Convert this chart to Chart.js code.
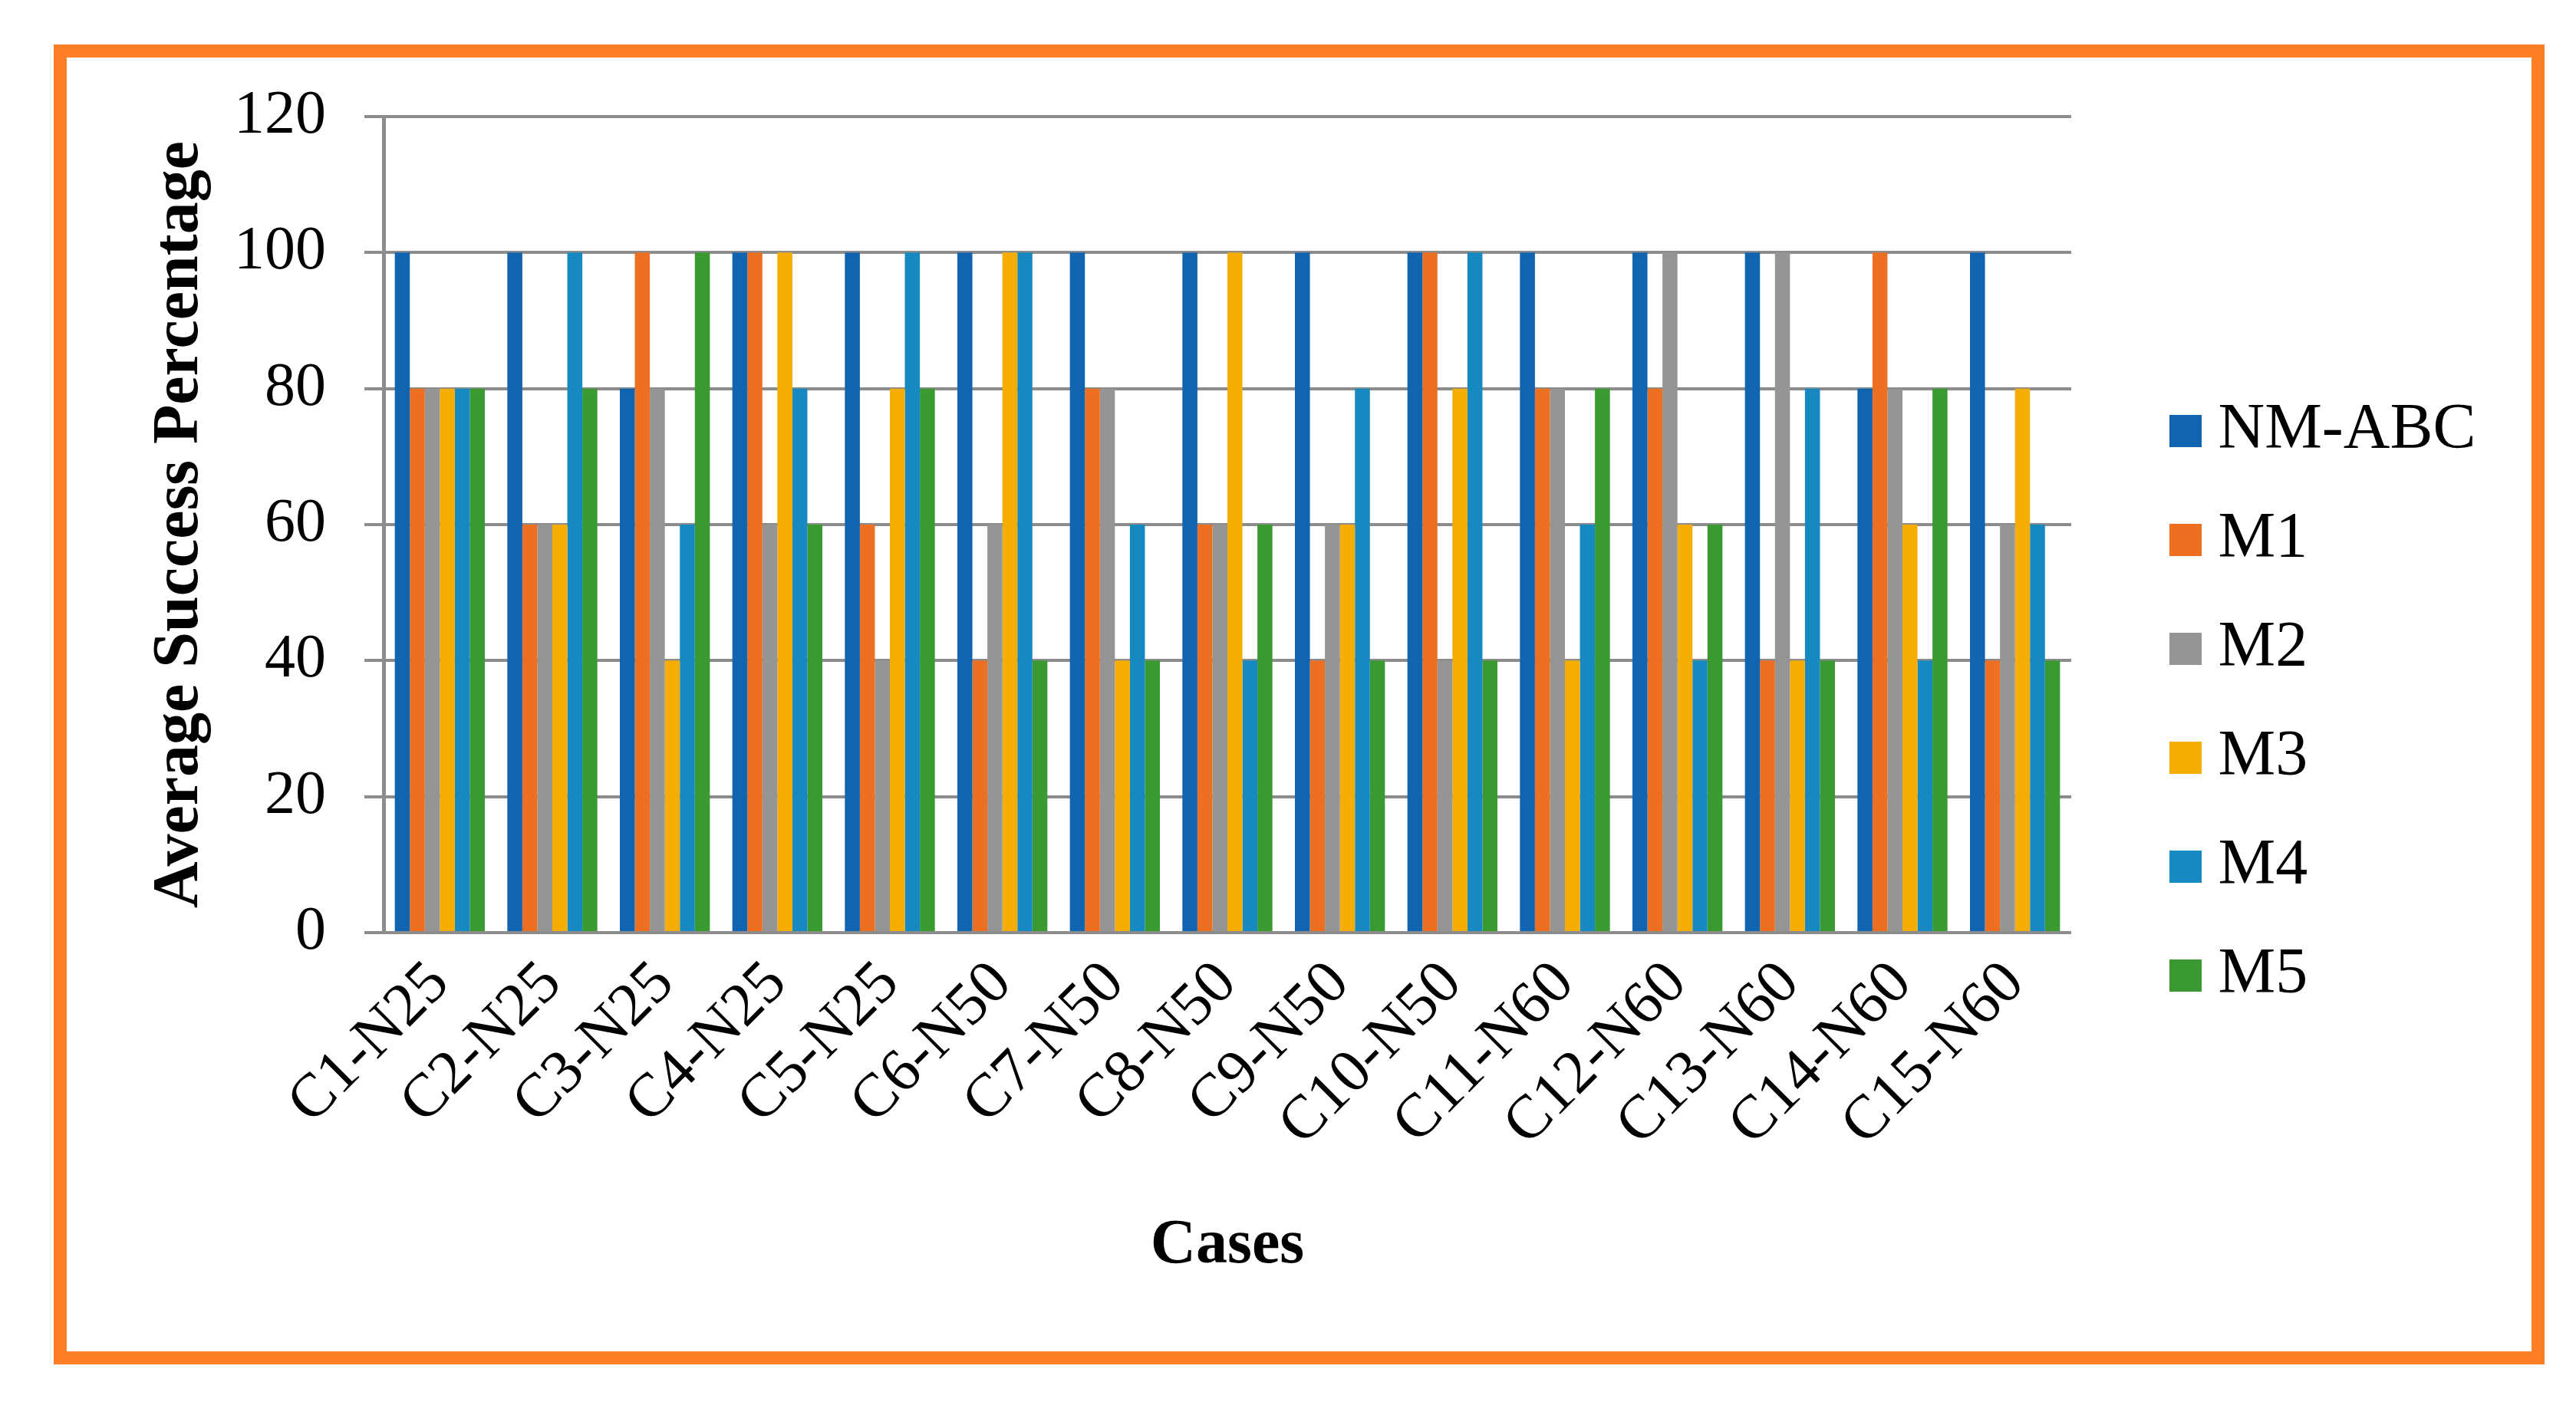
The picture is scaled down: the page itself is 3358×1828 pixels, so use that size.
<!DOCTYPE html>
<html>
<head>
<meta charset="utf-8">
<script src="https://cdn.jsdelivr.net/npm/chart.js@4.4.1/dist/chart.umd.min.js"></script>
<style>
  html, body { margin: 0; padding: 0; background: #ffffff; }
  #wrap { position: relative; width: 3358px; height: 1828px; }
  #frame {
    position: absolute; left: 70px; top: 58px; width: 3247px; height: 1721px;
    border: 17px solid #FF7F27; box-sizing: border-box; pointer-events: none;
  }
  canvas { position: absolute; left: 0; top: 0; }
</style>
</head>
<body>
<div id="wrap">
  <canvas id="chart" width="3358" height="1828"></canvas>
  <div id="frame"></div>
</div>
<script>
// data
const cases = ['C1-N25', 'C2-N25', 'C3-N25', 'C4-N25', 'C5-N25', 'C6-N50', 'C7-N50', 'C8-N50',
  'C9-N50', 'C10-N50', 'C11-N60', 'C12-N60', 'C13-N60', 'C14-N60', 'C15-N60'];
const nmAbc = [100, 100, 80, 100, 100, 100, 100, 100, 100, 100, 100, 100, 100, 80, 100];
const m1 = [80, 60, 100, 100, 60, 40, 80, 60, 40, 100, 80, 80, 40, 100, 40];
const m2 = [80, 60, 80, 60, 40, 60, 80, 60, 60, 40, 80, 100, 100, 80, 60];
const m3 = [80, 60, 40, 100, 80, 100, 40, 100, 60, 80, 40, 60, 40, 60, 80];
const m4 = [80, 100, 60, 80, 100, 100, 60, 40, 80, 100, 60, 40, 80, 40, 60];
const m5 = [80, 80, 100, 60, 80, 40, 40, 60, 40, 40, 80, 60, 40, 80, 40];
const yTicks = [0, 20, 40, 60, 80, 100, 120];

const seriesNames = ['NM-ABC', 'M1', 'M2', 'M3', 'M4', 'M5'];
const seriesData = [nmAbc, m1, m2, m3, m4, m5];
const seriesColors = ['#1164B0', '#ED6F21', '#959595', '#F4AD00', '#168AC0', '#3A9A31'];

Chart.defaults.font.family = "'Liberation Serif', 'Times New Roman', serif";
Chart.defaults.color = '#000000';

const gridGray = '#8C8C8C';
const legendPad = 58;

// move the legend to where it sits in the picture (and give it room so text isn't clipped)
const legendPlace = {
  id: 'legendPlace',
  afterLayout(chart) {
    const lg = chart.legend;
    if (!lg) return;
    const left = 2828 - legendPad + 20.5;
    lg.left = left;
    lg.right = 3358;
    lg.width = 3358 - left;
    lg.top = 0;
    lg.bottom = 1834;
    lg.height = 1834;
  }
};

const ctx = document.getElementById('chart').getContext('2d');
new Chart(ctx, {
  type: 'bar',
  data: {
    labels: cases,
    datasets: seriesNames.map((name, i) => ({
      label: name,
      data: seriesData[i],
      backgroundColor: seriesColors[i],
      borderWidth: 0,
      categoryPercentage: 0.8,
      barPercentage: 1.0
    }))
  },
  options: {
    responsive: false,
    animation: false,
    devicePixelRatio: 1,
    layout: { padding: { left: 140, top: 152, right: 358, bottom: 100 } },
    plugins: {
      tooltip: { enabled: false },
      legend: {
        position: 'right',
        maxWidth: 300,
        labels: {
          usePointStyle: true,
          pointStyle: 'rect',
          boxWidth: 1,
          boxHeight: 42,
          padding: legendPad,
          color: '#000000',
          font: { size: 84 }
        }
      }
    },
    scales: {
      x: {
        grid: { display: false, drawTicks: false },
        border: { display: false },
        ticks: {
          minRotation: 45,
          maxRotation: 45,
          autoSkip: false,
          padding: 20,
          font: { size: 80 },
          color: '#000000'
        },
        title: {
          display: true,
          text: 'Cases',
          font: { size: 82, weight: 'bold' },
          color: '#000000',
          padding: { top: 0, bottom: 54 }
        },
        afterFit(scale) { scale.height = 512; }
      },
      y: {
        min: 0,
        max: 120,
        afterBuildTicks(scale) { scale.ticks = yTicks.map(v => ({ value: v })); },
        grid: { color: gridGray, lineWidth: 4, tickLength: 25, drawTicks: true },
        border: { display: true, color: gridGray, width: 5 },
        ticks: { padding: 50, font: { size: 80 }, color: '#000000' },
        title: {
          display: true,
          text: 'Average Success Percentage',
          font: { size: 84, weight: 'bold' },
          color: '#000000',
          padding: { top: 45, bottom: 0 }
        },
        afterFit(scale) { scale.width = 360; }
      }
    }
  },
  plugins: [legendPlace]
});
</script>
</body>
</html>
